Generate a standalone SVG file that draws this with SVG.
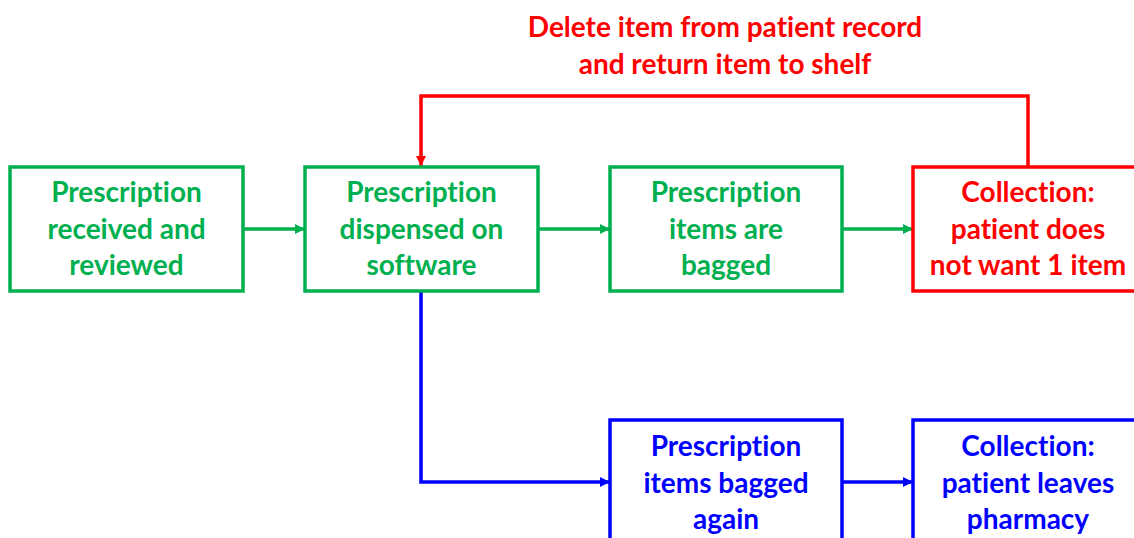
<svg xmlns="http://www.w3.org/2000/svg" width="1134" height="538" viewBox="0 0 1134 538">
<style>
  .box{fill:#fff;stroke-width:3.5}
  .g{stroke:#00B050}
  .r{stroke:#FF0000}
  .b{stroke:#0000FF}
  text{font-family:Lato,"Liberation Sans",sans-serif;font-weight:bold;font-size:28px;text-anchor:middle;font-variant-ligatures:none;font-feature-settings:"liga" 0,"dlig" 0}
  .tg{fill:#00B050}
  .tr{fill:#FF0000}
  .tb{fill:#0000FF}
  .line{fill:none;stroke-width:3.5}
</style>
<defs>
  <marker id="ag" viewBox="0 0 10 10" refX="10" refY="5" markerWidth="12" markerHeight="10" markerUnits="userSpaceOnUse" orient="auto"><path d="M0,0L10,5L0,10z" fill="#00B050"/></marker>
  <marker id="ar" viewBox="0 0 10 10" refX="10" refY="5" markerWidth="12" markerHeight="10" markerUnits="userSpaceOnUse" orient="auto"><path d="M0,0L10,5L0,10z" fill="#FF0000"/></marker>
  <marker id="ab" viewBox="0 0 10 10" refX="10" refY="5" markerWidth="12" markerHeight="10" markerUnits="userSpaceOnUse" orient="auto"><path d="M0,0L10,5L0,10z" fill="#0000FF"/></marker>
</defs>
<rect width="1134" height="538" fill="#fff"/>
<g id="connectors">
  <path class="line g" d="M243,229H305" marker-end="url(#ag)"/>
  <path class="line g" d="M538,229H610" marker-end="url(#ag)"/>
  <path class="line g" d="M842,229H913" marker-end="url(#ag)"/>
  <path class="line r" d="M1028,167V96H421V166" marker-end="url(#ar)"/>
  <path class="line b" d="M421,291V482H610" marker-end="url(#ab)"/>
  <path class="line b" d="M842,482H913" marker-end="url(#ab)"/>
  <text class="tr" x="725" y="37">Delete item from patient record</text>
  <text class="tr" x="725" y="74">and return item to shelf</text>
</g>
<g id="n1">
  <rect class="box g" x="10" y="167" width="233" height="124"/>
  <text class="tg" x="126.5" y="202">Prescription</text>
  <text class="tg" x="126.5" y="239">received and</text>
  <text class="tg" x="126.5" y="275">reviewed</text>
</g>
<g id="n2">
  <rect class="box g" x="305" y="167" width="233" height="124"/>
  <text class="tg" x="421.5" y="202">Prescription</text>
  <text class="tg" x="421.5" y="239">dispensed on</text>
  <text class="tg" x="421.5" y="275">software</text>
</g>
<g id="n3">
  <rect class="box g" x="610" y="167" width="232" height="124"/>
  <text class="tg" x="726" y="202">Prescription</text>
  <text class="tg" x="726" y="239">items are</text>
  <text class="tg" x="726" y="275">bagged</text>
</g>
<g id="n4">
  <rect class="box r" x="913" y="167" width="232" height="124"/>
  <text class="tr" x="1028" y="202">Collection:</text>
  <text class="tr" x="1028" y="239">patient does</text>
  <text class="tr" x="1028" y="275">not want 1 item</text>
</g>
<g id="n5">
  <rect class="box b" x="610" y="420" width="232" height="130"/>
  <text class="tb" x="726" y="456">Prescription</text>
  <text class="tb" x="726" y="493">items bagged</text>
  <text class="tb" x="726" y="529">again</text>
</g>
<g id="n6">
  <rect class="box b" x="913" y="420" width="232" height="130"/>
  <text class="tb" x="1028" y="456">Collection:</text>
  <text class="tb" x="1028" y="493">patient leaves</text>
  <text class="tb" x="1028" y="529">pharmacy</text>
</g>
</svg>
